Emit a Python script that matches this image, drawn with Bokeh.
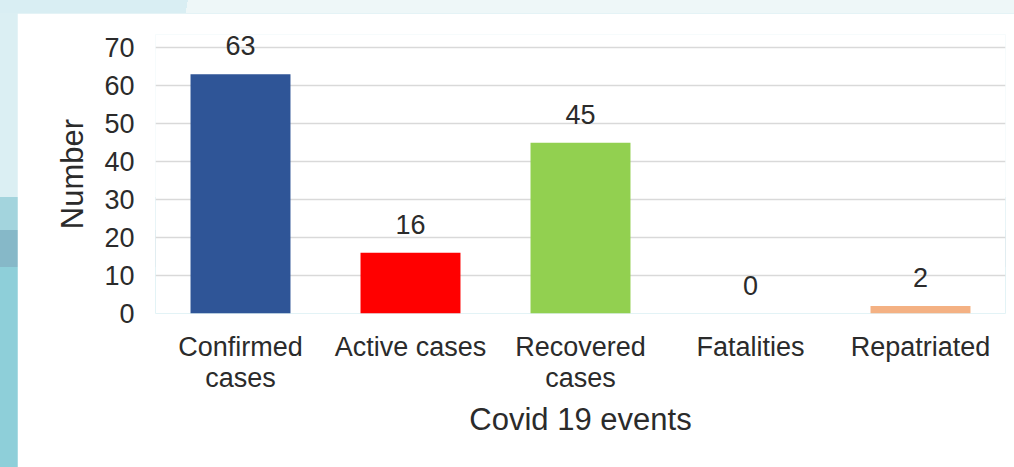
from bokeh.plotting import figure
from bokeh.models import ColumnDataSource, FixedTicker, LabelSet
from bokeh.core.properties import value
from bokeh.embed import file_html
from bokeh.resources import INLINE

categories = ["Confirmed\ncases", "Active cases", "Recovered\ncases", "Fatalities", "Repatriated"]
counts = [63, 16, 45, 0, 2]
bar_colors = ["#2f5597", "#ff0000", "#92d050", "#a5a5a5", "#f4b183"]
count_labels = ["63", "16", "45", "0", "2"]
y_ticks = [0, 10, 20, 30, 40, 50, 60, 70]

FONT = "Liberation Sans"
TXT = "#2b2b2b"

src = ColumnDataSource(dict(cat=categories, val=counts, color=bar_colors, lab=count_labels))

p = figure(x_range=categories, y_range=(0, 73.5), width=997, height=454,
           output_backend="svg", toolbar_location=None,
           min_border_left=138, min_border_right=9, min_border_top=21, min_border_bottom=154)
p.outline_line_color = None
p.background_fill_color = "white"
p.border_fill_color = "white"

p.vbar(x="cat", top="val", width=0.588, fill_color="color", line_color=None, source=src)
labels = LabelSet(x="cat", y="val", text="lab", source=src, text_align="center",
                  text_baseline="alphabetic", y_offset=19, text_font=value(FONT),
                  text_font_size=value("27px"), text_color=value(TXT))
p.add_layout(labels)

p.xgrid.grid_line_color = None
p.ygrid.grid_line_color = "#d9d9d9"
p.ygrid.grid_line_width = 1.5
p.yaxis.ticker = FixedTicker(ticks=y_ticks)

for ax in (p.xaxis[0], p.yaxis[0]):
    ax.axis_line_color = None
    ax.major_tick_line_color = None
    ax.minor_tick_line_color = None
    ax.major_tick_out = 0
    ax.major_tick_in = 0
    ax.major_label_text_font = FONT
    ax.major_label_text_font_size = "27px"
    ax.major_label_text_color = TXT
    ax.axis_label_text_font = FONT
    ax.axis_label_text_font_size = "31px"
    ax.axis_label_text_font_style = "normal"
    ax.axis_label_text_color = TXT

p.yaxis.axis_label = "Number"
p.yaxis.major_label_standoff = 21
p.yaxis.axis_label_standoff = 11
p.xaxis.axis_label = "Covid 19 events"
p.xaxis.major_label_standoff = 18
p.xaxis.major_label_text_line_height = 1.05
p.xaxis.axis_label_standoff = 6

html = file_html(p, INLINE)
bg = ("padding: 13px 0 0 17px; "
      "background: linear-gradient(100deg, #d9eef3 0px, #d9eef3 185px, #eef7f8 185px) top left / 100% 13px no-repeat, "
      "linear-gradient(to bottom, #dbeff3 0px, #dbeff3 197px, #a3d4dd 197px, #a3d4dd 230px, "
      "#86b8c8 230px, #86b8c8 267px, #8ecfd9 267px, #8ecfd9 100%);")
i = html.rfind("<body>")
if i >= 0:
    html = html[:i] + '<body style="' + bg + '">' + html[i + len("<body>"):]
open("out.html", "w").write(html)
